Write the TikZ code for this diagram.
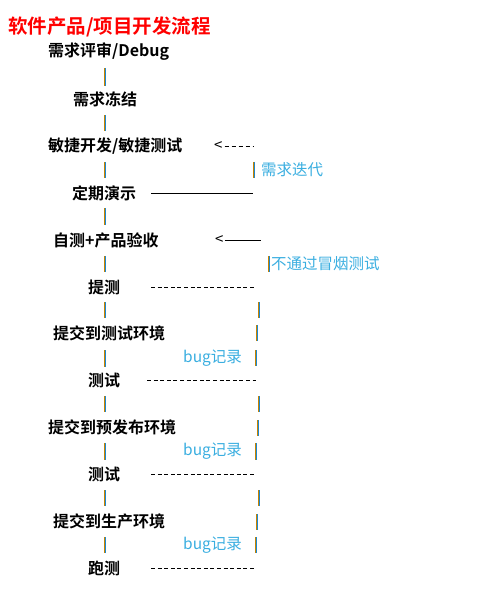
\documentclass[tikz,border=0pt]{standalone}
\usepackage{fontspec}
\usepackage{tikz}
\usepackage{xcolor}
\setmainfont{Noto Sans CJK SC}
\newfontfamily\cjkbold{Noto Sans CJK SC Bold}
\definecolor{titelrot}{HTML}{FF0000}
\definecolor{notizblau}{HTML}{3AAEE0}
\definecolor{strichorange}{HTML}{C88400}
\definecolor{strichblau}{HTML}{1E88D0}

\tikzset{
	schritt/.style={anchor=west, inner sep=0pt, font=\cjkbold\fontsize{16}{16}\selectfont},
	notiz/.style={anchor=west, inner sep=0pt, text=notizblau, font=\fontsize{15.5}{16}\selectfont},
	rueckweg/.style={line width=1pt, dash pattern=on 4pt off 2.6pt},
	pfeilspitze/.style={anchor=west, inner sep=0pt, font=\fontsize{15}{15}\selectfont},
}

\begin{document}
\begin{tikzpicture}[x=1pt, y=-1pt]
			\useasboundingbox (0,0) rectangle (479,608);
			
			% Titel
			\node[anchor=west, inner sep=0pt, text=titelrot, font=\cjkbold\fontsize{19.5}{20}\selectfont] (titel) at (8,27) {软件产品/项目开发流程};
			
			% Ablaufschritte eintragen
			\node[schritt] (review) at (48,52) {需求评审/Debug};
			\node[schritt] (freeze) at (73,99) {需求冻结};
			\node[schritt] (agile) at (48,146) {敏捷开发/敏捷测试};
			\node[schritt] (demo) at (72,193) {定期演示};
			\node[schritt] (selbst) at (53,240) {自测+产品验收};
			\node[schritt] (tice) at (88,287) {提测};
			\node[schritt] (testenv) at (53,333) {提交到测试环境};
			\node[schritt] (testA) at (88,380) {测试};
			\node[schritt] (preenv) at (48,427) {提交到预发布环境};
			\node[schritt] (testB) at (88,474) {测试};
			\node[schritt] (prodenv) at (53,521) {提交到生产环境};
			\node[schritt] (paoce) at (88,568) {跑测};
			
			% Anmerkungen
			\node[notiz] (iter) at (261,170) {需求迭代};
			\node[notiz] (smoke) at (271,264) {不通过冒烟测试};
			\node[notiz] (bugA) at (183,358) {bug记录};
			\node[notiz] (bugB) at (183,451) {bug记录};
			\node[notiz] (bugC) at (183,545) {bug记录};
			
			% senkrechte Striche (links orange, rechts blau)
			\foreach \x/\ya/\yb in {105/68/86, 105/115/131, 105/162/178, 105/208/225,
				105/256/272, 105/302/318, 105/350/367, 105/396/412, 105/443/460,
				105/490/506, 105/537/553, 254/162/178, 269/256/272, 259/302/318,
				257/325/341, 256/350/366, 259/396/412, 258/420/436, 256/443/460,
				259/490/506, 257/514/530, 256/537/553}
			{
				\draw[strichorange, line width=1pt] (\x-0.5,\ya) to (\x-0.5,\yb);
				\draw[strichblau, line width=1pt] (\x+0.5,\ya) to (\x+0.5,\yb);
			}
			
			% Rueckwege
			\node[pfeilspitze] (pfeilA) at (214,146) {<};
			\draw[rueckweg, dash pattern=on 4.5pt off 2.5pt] (pfeilA.east) ++(2,0) to (253,146);
			\draw[line width=1pt] (151,193) to (253,193);
			\node[pfeilspitze] (pfeilB) at (215,240) {<};
			\draw[line width=1pt] (pfeilB.east) ++(1,0) to (261,240);
			\draw[rueckweg] (151,287) to (254,287);
			\draw[rueckweg] (147,380) to (256,380);
			\draw[rueckweg] (151,474) to (254,474);
			\draw[rueckweg] (151,568) to (254,568);
	\end{tikzpicture}
\end{document}
